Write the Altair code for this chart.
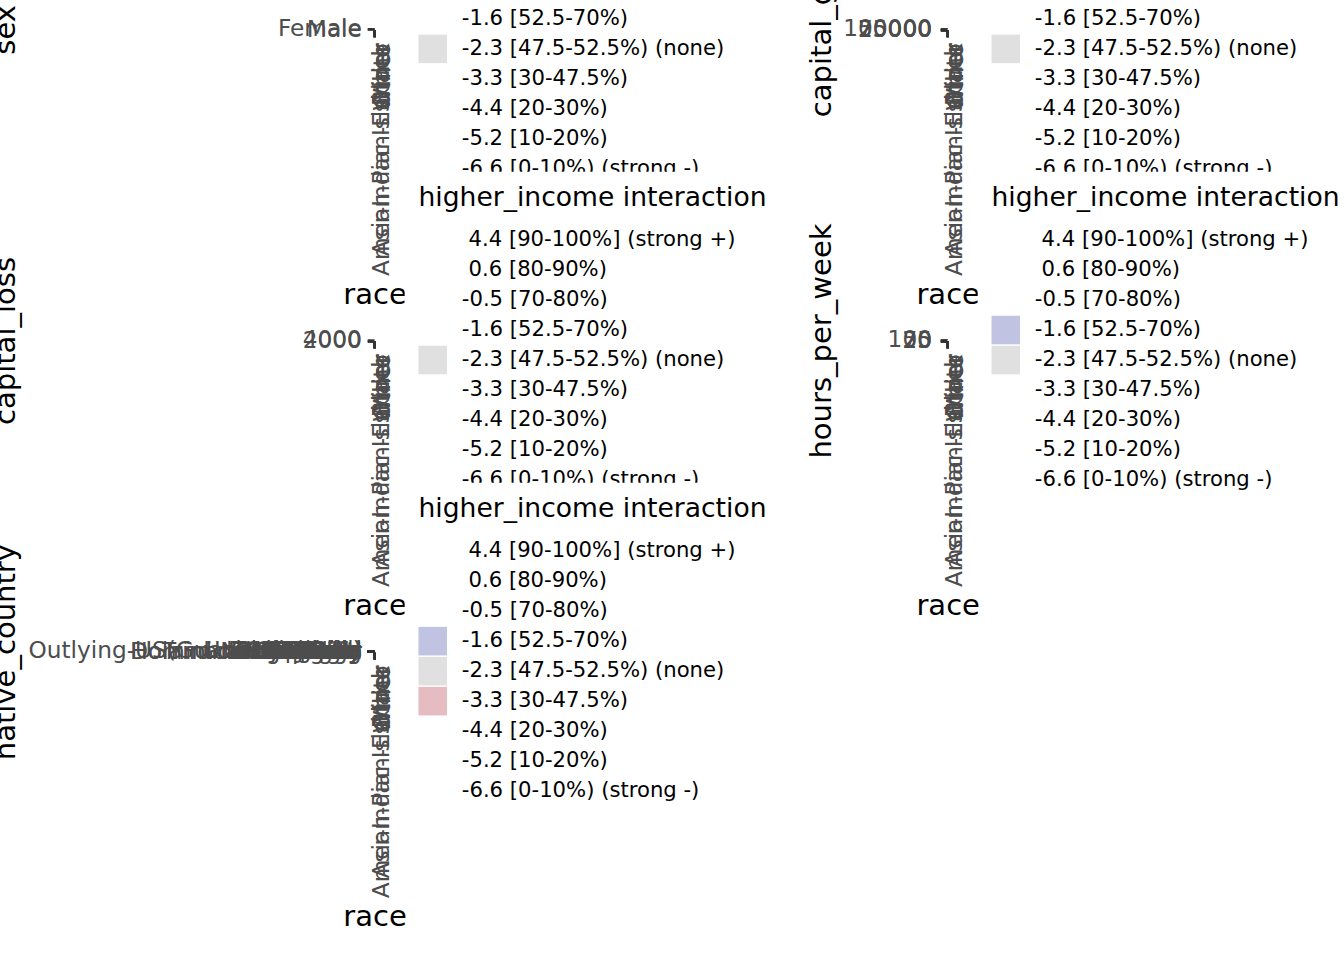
import altair as alt
import pandas as pd

# ---------------- data ----------------
RACES = ["Amer-Indian-Eskimo", "Asian-Pac-Islander", "Black", "Other", "White"]

LEVELS = [
    "\u200b\u00a04.4 [90-100%] (strong +)",
    "\u200b\u00a00.6 [80-90%)",
    "-0.5 [70-80%)",
    "-1.6 [52.5-70%)",
    "-2.3 [47.5-52.5%) (none)",
    "-3.3 [30-47.5%)",
    "-4.4 [20-30%)",
    "-5.2 [10-20%)",
    "-6.6 [0-10%) (strong -)",
]
PALETTE = ["#3b4cc0", "#7b86c8", "#a4aad6", "#c0c4e2", "#e0e0e0",
           "#e4bcc1", "#d98e99", "#c8606f", "#b40426"]

# sex panel
SEXES = ["Female", "Male"]
SEX_LEVEL = [[4, 4], [4, 4], [4, 4], [4, 4], [4, 4]]          # race x sex

# capital_gain panel
GAIN_EDGES = [0, 20000, 40000, 60000, 80000, 100000]
GAIN_TICKS = [0, 25000, 50000, 75000, 100000]
GAIN_LEVEL = [[4, 4, 4, 4, 4]] * 5                             # race x bin

# capital_loss panel
LOSS_EDGES = [0, 900, 1800, 2700, 3600, 4400]
LOSS_TICKS = [0, 2000, 4000]
LOSS_LEVEL = [[4, 4, 4, 4, 4]] * 5

# hours_per_week panel
HOURS_EDGES = [0, 20, 40, 60, 80, 100]
HOURS_TICKS = [0, 25, 50, 75, 100]
HOURS_LEVEL = [[4, 4, 3, 4, 4], [4, 4, 4, 4, 4], [4, 4, 4, 3, 4],
               [4, 4, 4, 4, 4], [4, 4, 4, 4, 4]]

# native_country panel
COUNTRIES = [
    "United-States", "Cambodia", "England", "Puerto-Rico", "Canada", "Germany",
    "Outlying-US(Guam-USVI-etc)", "India", "Japan", "Greece", "South", "China",
    "Cuba", "Iran", "Honduras", "Philippines", "Italy", "Poland", "Jamaica",
    "Vietnam", "Mexico", "Portugal", "Ireland", "France", "Dominican-Republic",
    "Laos", "Ecuador", "Taiwan", "Haiti", "Columbia", "Hungary", "Guatemala",
    "Nicaragua", "Scotland", "Thailand", "Yugoslavia", "El-Salvador",
    "Trinadad&Tobago", "Peru", "Hong", "Holand-Netherlands",
]
COUNTRY_CELL_RACE = ["White", "Black", "Asian-Pac-Islander", "White", "Other",
                     "Asian-Pac-Islander", "White", "Black", "Amer-Indian-Eskimo"]
COUNTRY_CELL_COUNTRY = ["United-States", "United-States", "Philippines", "Mexico",
                        "Mexico", "India", "Germany", "Jamaica", "United-States"]
COUNTRY_CELL_LEVEL = [4, 4, 3, 5, 4, 3, 4, 5, 4]

# ---------------- helpers ----------------
FONT = "DejaVu Sans"


def color_range(present):
    return [PALETTE[i] if i in present else "white" for i in range(len(LEVELS))]


def legend():
    return alt.Legend(
        title="higher_income interaction", orient="none", legendX=31, legendY=-171,
        fillColor="white", padding=14, titleFontSize=27, titleFont=FONT,
        titleFontWeight="normal", titleColor="black", titlePadding=14,
        labelFont=FONT, labelFontSize=21.5, labelColor="black", labelOffset=15,
        labelLimit=1000, titleLimit=1000, symbolType="square", symbolSize=841,
        symbolStrokeWidth=0, symbolOpacity=1, rowPadding=1.45,
    )


def x_enc():
    return alt.X("race:N", scale=alt.Scale(domain=RACES), title="race",
                 axis=alt.Axis(labelAngle=270, labelAlign="right", labelBaseline="middle",
                               labelPadding=6, labelOffset=8, titlePadding=7,
                               minExtent=248, maxExtent=248))


def y_axis(extent, tpad, lpad, **kw):
    return alt.Axis(minExtent=extent, maxExtent=extent, titlePadding=tpad,
                    labelAlign="right", labelBaseline="middle", labelPadding=lpad, **kw)


def color_enc(present):
    return alt.Color("level:N", scale=alt.Scale(domain=LEVELS, range=color_range(present)),
                     legend=legend())


def nominal_panel(df, cats, ytitle, extent, tpad, lpad):
    present = sorted(set(df["li"]))
    return alt.Chart(df).mark_rect().encode(
        x=x_enc(),
        y=alt.Y("cat:N", scale=alt.Scale(domain=cats), title=ytitle,
                axis=y_axis(extent, tpad, lpad)),
        color=color_enc(present),
    ).properties(width=1, height=1)


def quant_panel(df, ticks, ytitle, extent, tpad, lpad):
    present = sorted(set(df["li"]))
    return alt.Chart(df).mark_rect().encode(
        x=x_enc(),
        y=alt.Y("lo:Q", scale=alt.Scale(domain=[ticks[0], max(ticks[-1], df["hi"].max())], nice=False),
                title=ytitle, axis=y_axis(extent, tpad, lpad, values=ticks, format="d")),
        y2="hi:Q",
        color=color_enc(present),
    ).properties(width=1, height=1)


def grid_df(cats, levels):
    rows = []
    for r, race in enumerate(RACES):
        for c, cat in enumerate(cats):
            rows.append({"race": race, "cat": cat, "li": levels[r][c], "level": LEVELS[levels[r][c]]})
    return pd.DataFrame(rows)


def bin_df(edges, levels):
    rows = []
    for r, race in enumerate(RACES):
        for b in range(len(edges) - 1):
            li = levels[r][b]
            rows.append({"race": race, "lo": edges[b], "hi": edges[b + 1], "li": li, "level": LEVELS[li]})
    return pd.DataFrame(rows)


sex_df = grid_df(SEXES, SEX_LEVEL)
gain_df = bin_df(GAIN_EDGES, GAIN_LEVEL)
loss_df = bin_df(LOSS_EDGES, LOSS_LEVEL)
hours_df = bin_df(HOURS_EDGES, HOURS_LEVEL)
country_df = pd.DataFrame({
    "race": COUNTRY_CELL_RACE, "cat": COUNTRY_CELL_COUNTRY, "li": COUNTRY_CELL_LEVEL,
    "level": [LEVELS[i] for i in COUNTRY_CELL_LEVEL],
})

LEFT_EXT, LEFT_TP, LEFT_LP = 351, 8, 6
RIGHT_EXT, RIGHT_TP, RIGHT_LP = 104, 9, 9

p_sex = nominal_panel(sex_df, SEXES, "sex", LEFT_EXT, LEFT_TP, LEFT_LP)
p_gain = quant_panel(gain_df, GAIN_TICKS, "capital_gain", RIGHT_EXT, RIGHT_TP, RIGHT_LP)
p_loss = quant_panel(loss_df, LOSS_TICKS, "capital_loss", LEFT_EXT, LEFT_TP, LEFT_LP)
p_hours = quant_panel(hours_df, HOURS_TICKS, "hours_per_week", RIGHT_EXT, RIGHT_TP, RIGHT_LP)
p_country = nominal_panel(country_df, COUNTRIES, "native_country", LEFT_EXT, LEFT_TP, LEFT_LP)

chart = alt.concat(
    p_sex, p_gain, p_loss, p_hours, p_country,
    columns=2, spacing={"row": 315, "column": 581}, bounds="flush",
).resolve_scale(
    color="independent", x="independent", y="independent"
).resolve_legend(color="independent").properties(
    padding={"left": -9, "top": -149, "right": -10, "bottom": 0},
    background="white",
).configure_view(strokeOpacity=0).configure_axis(
    labelFont=FONT, labelFontSize=23.6, labelColor="#4d4d4d", labelOverlap=False,
    labelLimit=1000, titleFont=FONT, titleFontSize=29.5, titleColor="black",
    titleFontWeight="normal", domain=False, grid=False, ticks=True,
    tickColor="#333333", tickWidth=2.5, tickSize=7,
)

chart.save("out.html", embed_options={"renderer": "svg", "actions": False})
